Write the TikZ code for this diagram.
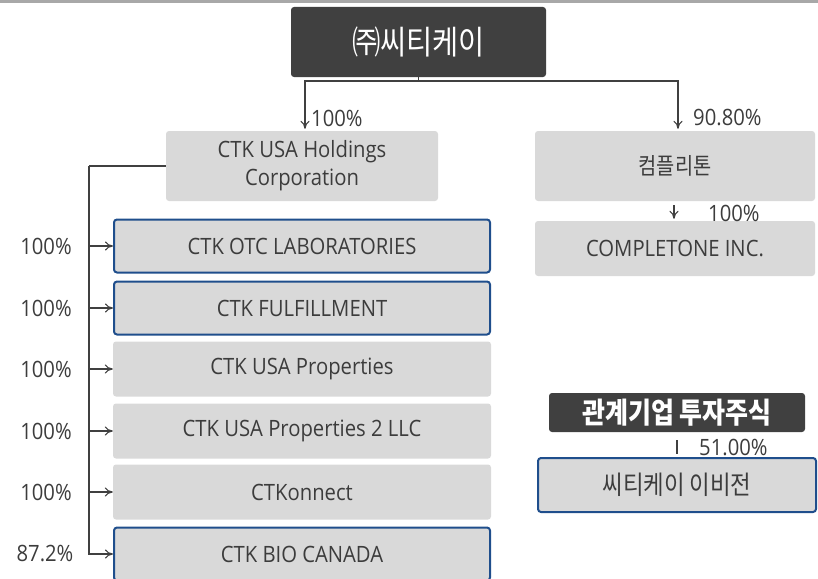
\documentclass[tikz,border=0pt]{standalone}
\usepackage{fontspec}
\setmainfont{Open Sans}[FakeStretch=0.9]
\newfontfamily\kr{Noto Sans CJK KR}[FakeStretch=0.86]
\usetikzlibrary{arrows.meta}
\definecolor{darkbox}{HTML}{404040}
\definecolor{boxgray}{HTML}{D9D9D9}
\definecolor{navy}{HTML}{1F4E8C}
\definecolor{txt}{HTML}{3C3C3C}
\definecolor{topbar}{HTML}{A8A8A8}
\begin{document}
\begin{tikzpicture}[x=1pt,y=-1pt,
  gbox/.style={fill=boxgray, rounded corners=3pt, text=txt, inner sep=0pt,
    font=\fontsize{22.5}{28}\selectfont, align=center},
  bluebox/.style={gbox, draw=navy, line width=2pt},
  darkb/.style={fill=darkbox, rounded corners=3pt, text=white, inner sep=0pt},
  pct/.style={text=txt, font=\fontsize{22.5}{26}\selectfont, inner sep=0pt},
  conn/.style={draw=darkbox, line width=1.1pt},
  arr/.style={conn, -{To[length=8pt,width=9pt]}}
]
\useasboundingbox (0,0) rectangle (818,578);
\fill[topbar] (0,0) rectangle (818,3);

% top
\node[darkb, minimum width=255pt, minimum height=70pt, font=\kr\fontsize{33}{36}\selectfont] (top) at (418.5,42) {㈜씨티케이};

% left branch
\node[gbox, minimum width=272pt, minimum height=70pt] (hold) at (302,166) {CTK USA Holdings\\Corporation};
\node[bluebox, minimum width=376pt, minimum height=53pt] (c1) at (302,246) {CTK OTC LABORATORIES};
\node[bluebox, minimum width=376pt, minimum height=53pt] (c2) at (302,308) {CTK FULFILLMENT};
\node[gbox, minimum width=378pt, minimum height=55pt] (c3) at (302,369) {CTK USA Properties};
\node[gbox, minimum width=378pt, minimum height=55pt] (c4) at (302,431) {CTK USA Properties 2 LLC};
\node[gbox, minimum width=378pt, minimum height=55pt] (c5) at (302,492) {CTKonnect};
\node[bluebox, minimum width=376pt, minimum height=53pt] (c6) at (302,554) {CTK BIO CANADA};

\node[pct] (p1) at (46,246) {100\%};
\node[pct] (p2) at (46,308) {100\%};
\node[pct] (p3) at (46,369) {100\%};
\node[pct] (p4) at (46,431) {100\%};
\node[pct] (p5) at (46,492) {100\%};
\node[pct] (p6) at (45,554) {87.2\%};

% right branch
\node[gbox, minimum width=280pt, minimum height=70pt, font=\kr\fontsize{23}{26}\selectfont] (comp) at (675,166) {컴플리톤};
\node[gbox, minimum width=280pt, minimum height=55pt] (cinc) at (675,248.5) {COMPLETONE INC.};
\node[darkb, minimum width=256pt, minimum height=39pt, font=\kr\fontsize{29}{32}\selectfont\bfseries] (inv) at (677,412.5) {관계기업 투자주식};
\node[bluebox, minimum width=278pt, minimum height=54pt, font=\kr\fontsize{26}{30}\selectfont] (ebiz) at (677,485) {씨티케이 이비전};

% labels
\node[pct, anchor=west] (l1) at (311,118) {100\%};
\node[pct, anchor=west] (l2) at (693,118) {90.80\%};
\node[pct, anchor=west] (l3) at (708,213) {100\%};
\node[pct, anchor=west] (l4) at (699,447) {51.00\%};

% connectors
\coordinate (j) at (418.5,81);
\draw[conn] (top.south) -- (j);
\draw[arr] (j) -| ([xshift=3pt,yshift=2pt]hold.north);
\draw[arr] (j) -| ([xshift=3pt,yshift=2pt]comp.north);

\coordinate (bus) at (89,166);
\draw[conn] (hold.west) -- (bus);
\draw[arr] (bus) |- (c6.west);
\draw[arr] (bus |- c1.west) -- (c1.west);
\draw[arr] (bus |- c2.west) -- (c2.west);
\draw[arr] (bus |- c3.west) -- (c3.west);
\draw[arr] (bus |- c4.west) -- (c4.west);
\draw[arr] (bus |- c5.west) -- (c5.west);

\draw[arr] ([xshift=-1pt,yshift=-4pt]comp.south) -- ([xshift=-1pt,yshift=2pt]cinc.north);
\draw[conn] ([yshift=-8pt]inv.south) -- ([yshift=3pt]ebiz.north);
\end{tikzpicture}
\end{document}
